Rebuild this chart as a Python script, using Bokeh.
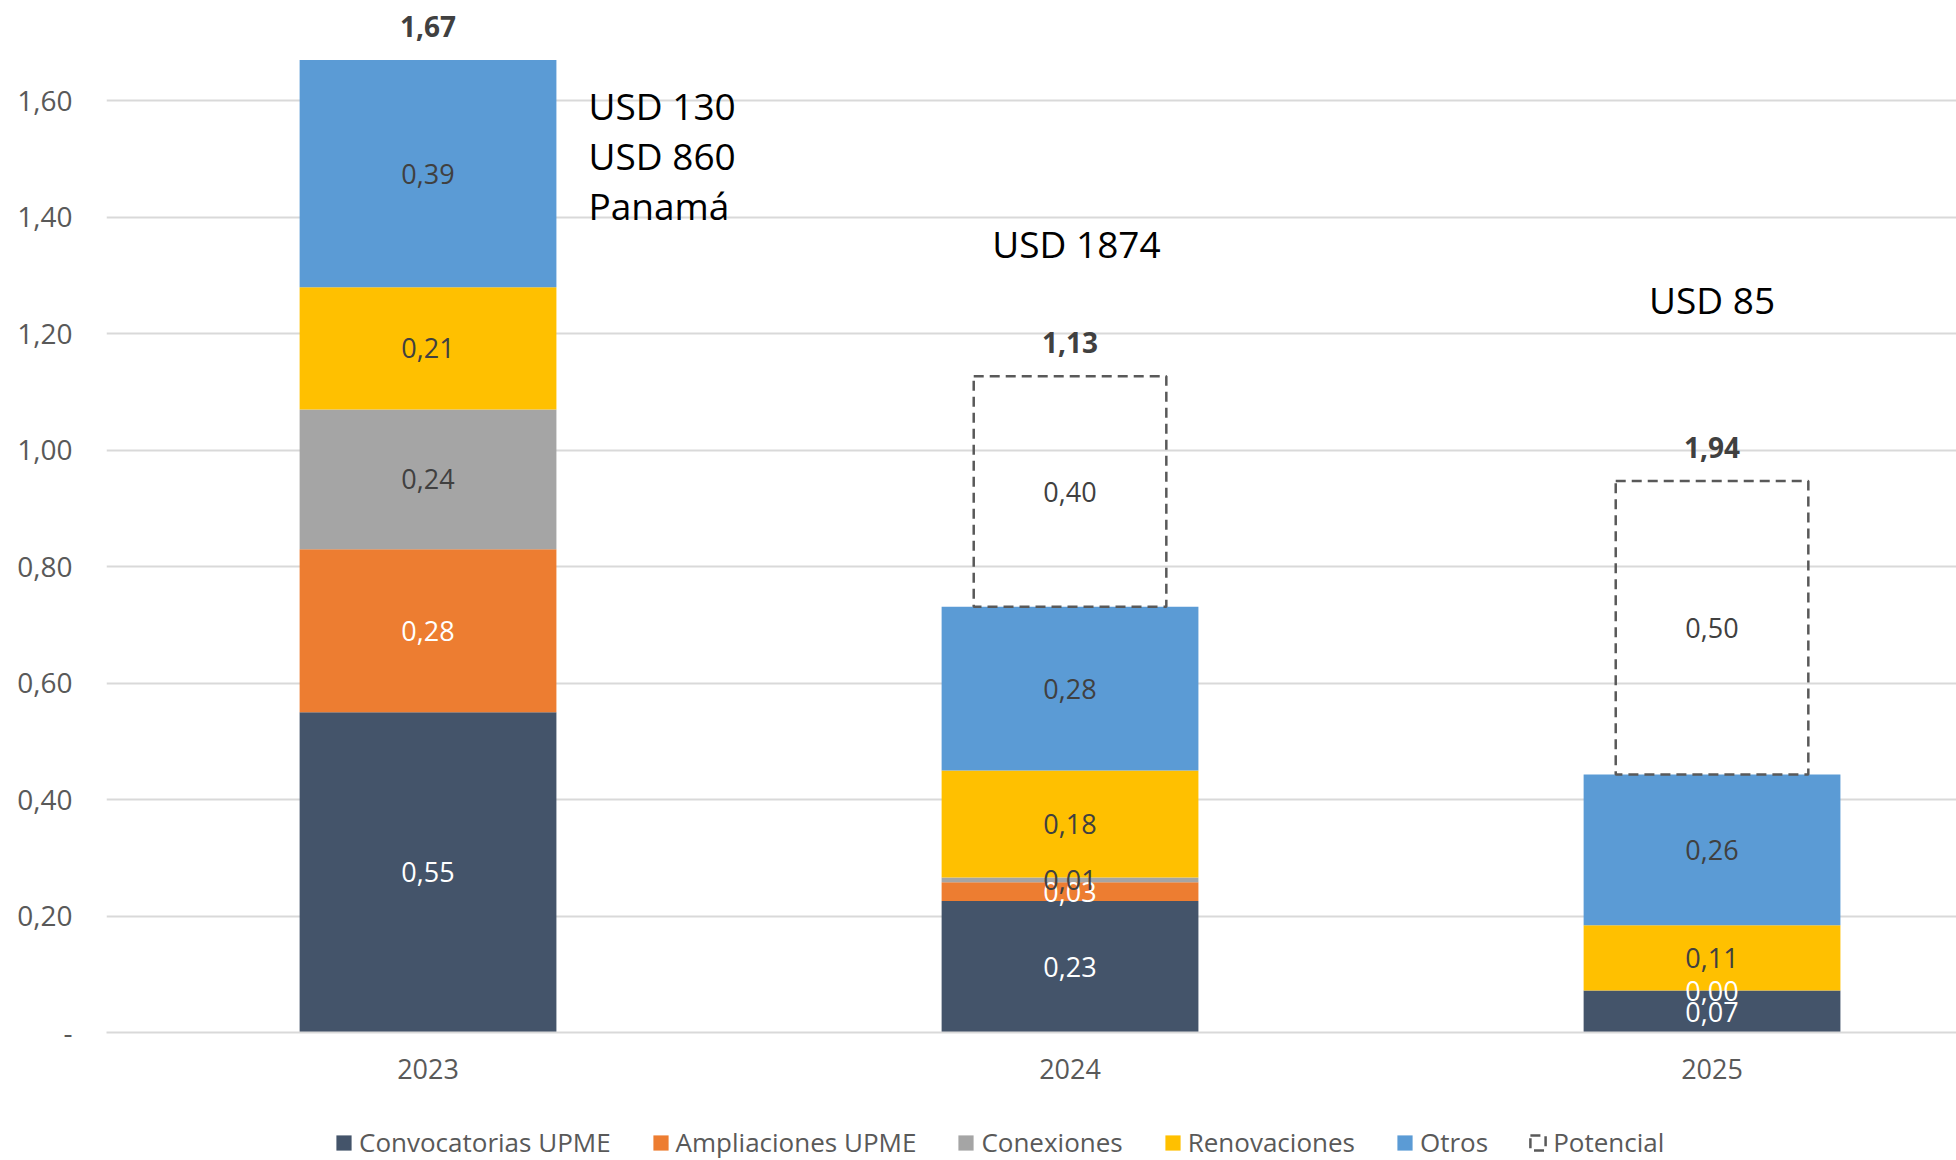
from bokeh.plotting import figure
from bokeh.layouts import column
from bokeh.models import Range1d, FixedTicker, Legend, LegendItem
from bokeh.core.properties import value
from bokeh.embed import file_html
from bokeh.resources import INLINE

# ---------------- data ----------------
years = ["2023", "2024", "2025"]
series_names = ["Convocatorias UPME", "Ampliaciones UPME", "Conexiones", "Renovaciones", "Otros"]
convocatorias = [0.55, 0.226, 0.072]
ampliaciones = [0.28, 0.032, 0.0]
conexiones = [0.24, 0.008, None]
renovaciones = [0.21, 0.184, 0.112]
otros = [0.39, 0.281, 0.259]
potencial = [None, 0.396, 0.504]
total_labels = ["1,67", "1,13", "1,94"]
y_ticks = [0.0, 0.2, 0.4, 0.6, 0.8, 1.0, 1.2, 1.4, 1.6]
y_tick_labels = ["-", "0,20", "0,40", "0,60", "0,80", "1,00", "1,20", "1,40", "1,60"]
notes = [["USD 130", "USD 860", "Panamá"], ["USD 1874"], ["USD 85"]]

# ---------------- styles ----------------
colors = ["#44546A", "#ED7D31", "#A5A5A5", "#FFC000", "#5B9BD5"]
label_colors = ["white", "white", "#404040", "#404040", "#404040"]
FONT = "Open Sans"
BAR_W = 0.4
POT_W = 0.3
POT_STYLE = dict(fill_color=None, line_color="#595959", line_dash="10 6", line_width=2.5)

p = figure(width=1956, height=1100, output_backend="svg", toolbar_location=None,
           x_range=Range1d(-0.5008, 2.3808), y_range=Range1d(0, 1.7723),
           min_border_left=106, min_border_right=0, min_border_top=0, min_border_bottom=68)
p.outline_line_color = None
p.background_fill_color = "white"

xs = list(range(len(years)))
all_series = [convocatorias, ampliaciones, conexiones, renovaciones, otros]
bottoms = [0.0] * len(years)
lab_x, lab_y, lab_t, lab_c = [], [], [], []
for name, vals, col, lcol in zip(series_names, all_series, colors, label_colors):
    bx, bb, bt = [], [], []
    for i, v in enumerate(vals):
        if v is None:
            continue
        bx.append(xs[i]); bb.append(bottoms[i]); bt.append(bottoms[i] + v)
        lab_x.append(xs[i]); lab_y.append(bottoms[i] + v / 2)
        lab_t.append(f"{v:.2f}".replace(".", ",")); lab_c.append(lcol)
        bottoms[i] += v
    p.vbar(x=bx, bottom=bb, top=bt, width=BAR_W, fill_color=col, line_color=None)

px, pb, pt = [], [], []
for i, v in enumerate(potencial):
    if v is None:
        continue
    px.append(xs[i]); pb.append(bottoms[i]); pt.append(bottoms[i] + v)
    lab_x.append(xs[i]); lab_y.append(bottoms[i] + v / 2)
    lab_t.append(f"{v:.2f}".replace(".", ",")); lab_c.append("#404040")
    bottoms[i] += v
p.vbar(x=px, bottom=pb, top=pt, width=POT_W, **POT_STYLE)

# segment labels
p.text(x=lab_x, y=lab_y, text=lab_t, text_color=lab_c, text_align="center",
       text_baseline="middle", text_font=value(FONT), text_font_size="27px")

# totals
p.text(x=xs, y=bottoms, text=total_labels, text_color="#404040", text_align="center",
       text_baseline="alphabetic", y_offset=-34, text_font=value(FONT),
       text_font_size="28px", text_font_style="bold")

# notes (annotation positions)
note_x = [0.25, 1.01, 2.0]
note_y = [1.592, 1.355, 1.258]
note_align = ["left", "center", "center"]
line_step = 0.086
for nx, ny, al, lines in zip(note_x, note_y, note_align, notes):
    p.text(x=[nx] * len(lines), y=[ny - k * line_step for k in range(len(lines))],
           text=lines, text_color="black", text_align=al, text_baseline="alphabetic",
           text_font=value(FONT), text_font_size="37px")

# axes and grid
p.xgrid.visible = False
p.ygrid.ticker = FixedTicker(ticks=y_ticks)
p.ygrid.grid_line_color = "#d9d9d9"
p.ygrid.grid_line_width = 2
p.ygrid.level = "underlay"

p.yaxis.ticker = FixedTicker(ticks=y_ticks)
p.yaxis.major_label_overrides = dict(zip(y_ticks, y_tick_labels))
p.yaxis.axis_line_color = None
p.yaxis.major_tick_line_color = None
p.yaxis.minor_tick_line_color = None
p.yaxis.major_label_text_font = FONT
p.yaxis.major_label_text_font_size = "28px"
p.yaxis.major_label_text_color = "#595959"
p.yaxis.major_label_standoff = 28

p.xaxis.ticker = FixedTicker(ticks=xs)
p.xaxis.major_label_overrides = dict(zip(xs, years))
p.xaxis.axis_line_color = "#d9d9d9"
p.xaxis.axis_line_width = 2
p.xaxis.major_tick_line_color = None
p.xaxis.minor_tick_line_color = None
p.xaxis.major_label_text_font = FONT
p.xaxis.major_label_text_font_size = "27px"
p.xaxis.major_label_text_color = "#595959"
p.xaxis.major_label_standoff = 20

# ---------------- legend strip ----------------
lf = figure(width=1956, height=60, output_backend="svg", toolbar_location=None,
            x_range=Range1d(0, 1), y_range=Range1d(0, 1),
            x_axis_location=None, y_axis_location=None,
            min_border_left=0, min_border_right=0, min_border_top=0, min_border_bottom=0)
lf.outline_line_color = None
lf.xgrid.visible = False
lf.ygrid.visible = False
items = []
# legend-only renderers: one point each, placed outside the visible range
for name, col in zip(series_names, colors):
    r = lf.vbar(x=[-5], bottom=[-5], top=[-4], width=BAR_W, fill_color=col, line_color=None)
    items.append(LegendItem(label=name, renderers=[r], index=0))
r = lf.vbar(x=[-5], bottom=[-5], top=[-4], width=POT_W, **POT_STYLE)
items.append(LegendItem(label="Potencial", renderers=[r], index=0))
legend = Legend(items=items, orientation="horizontal", location=(228, 0),
                label_text_font=FONT, label_text_font_size="26px", label_text_color="#595959",
                glyph_width=19, glyph_height=19, label_standoff=6, spacing=40,
                padding=0, margin=0, border_line_color=None, background_fill_alpha=0)
lf.add_layout(legend, "center")

layout = column(p, lf, spacing=0)
open("out.html", "w").write(file_html(layout, INLINE))
